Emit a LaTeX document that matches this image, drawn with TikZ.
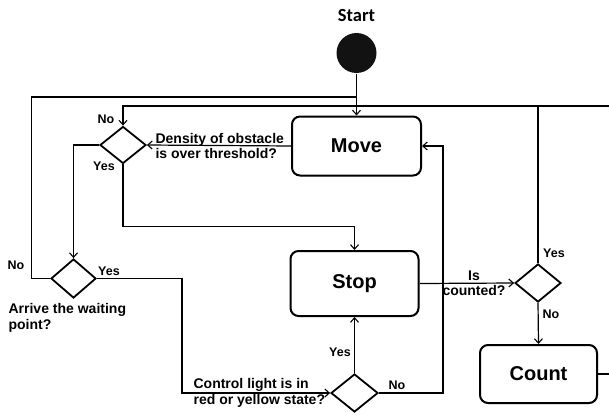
\documentclass[tikz,border=0pt]{standalone}
\usepackage{fontspec}
\setmainfont{Liberation Sans}
\newfontfamily\startfont{Carlito}
\usetikzlibrary{shapes.geometric,arrows.meta,shadows}
\begin{document}
\begin{tikzpicture}[x=1pt,y=-1pt,
  line width=1.2pt,
  arr/.style={-{Straight Barb[length=4.5pt,width=8pt,line width=1.1pt]}},
  statebox/.style={draw,fill=white,line width=2pt,rounded corners=8pt,font=\fontsize{20}{22}\selectfont\bfseries,
    drop shadow={opacity=0.18,shadow xshift=1pt,shadow yshift=-1pt}},
  decision/.style={draw,fill=white,diamond,line width=1.8pt,inner sep=0pt,minimum width=46pt,minimum height=38pt},
  qlabel/.style={font=\fontsize{14}{15.5}\selectfont\bfseries,align=left,inner sep=0pt},
  yn/.style={font=\fontsize{12.5}{14}\selectfont\bfseries,inner sep=0pt}]
\useasboundingbox (0,0) rectangle (609,412);
% title
\node[font=\startfont\fontsize{18.5}{20}\selectfont\bfseries] (title) at (356.5,16) {Start};
\node[circle,fill=black!93,minimum size=40pt,inner sep=0pt] (start) at (356.5,53) {};
% states
\node[statebox,minimum width=129pt,minimum height=59pt] (move) at (356.5,146) {Move};
\node[statebox,minimum width=128pt,minimum height=65pt] (stop) at (354.5,283.5) {Stop};
\node[statebox,minimum width=117pt,minimum height=58pt] (count) at (538.5,374) {Count};
% decisions
\node[decision,minimum height=37pt] (d1) at (123,145) {};
\node[decision,minimum width=45pt,minimum height=39pt] (d2) at (73.5,278.5) {};
\node[decision,minimum width=47pt] (d3) at (354.5,393) {};
\node[decision] (d4) at (538,283) {};
% helper coordinates
\coordinate (j1) at (356.5,97);
\coordinate (c1) at (123,106);
\coordinate (xr) at (616,106);
% connectors
\draw[arr] (start.south) -- (move.north);
\draw (d2.west) -- ++(-19,0) |- (j1);
\draw[arr] (count.east) -| (xr) -- (c1) -- (d1.north);
\draw (d4.north) -- (d4.north |- c1);
\draw[arr] (move.west) -- (d1.east);
\draw[arr] (d1.west) -| (d2.north);
\draw[arr] (d1.south) -- ++(0,62) -| (stop.north);
\draw[arr] (d2.east) -- ++(85,0) |- (d3.west);
\draw[arr] (d3.north) -- (stop.south);
\draw[arr] (d3.east) -- ++(64,0) |- (move.east);
\draw[arr] (stop.east) -- (d4.west);
\draw[arr] (d4.south) -- (count.north);
% labels
\node[qlabel,anchor=west] (q1) at (155,146) {Density of obstacle\\is over threshold?};
\node[qlabel,anchor=west] (q2) at (8,318) {Arrive the waiting\\point?};
\node[qlabel,anchor=west] (q3) at (193,393) {Control light is in\\red or yellow state?};
\node[qlabel,align=center] (q4) at (474,283) {Is\\counted?};
\node[yn] (n1) at (106,119) {No};
\node[yn] (y1) at (104,166) {Yes};
\node[yn] (n2) at (16,265) {No};
\node[yn] (y2) at (109,271) {Yes};
\node[yn] (y3) at (340,352) {Yes};
\node[yn] (n3) at (397,385) {No};
\node[yn] (y4) at (554,253) {Yes};
\node[yn] (n4) at (551,314) {No};
\end{tikzpicture}
\end{document}
